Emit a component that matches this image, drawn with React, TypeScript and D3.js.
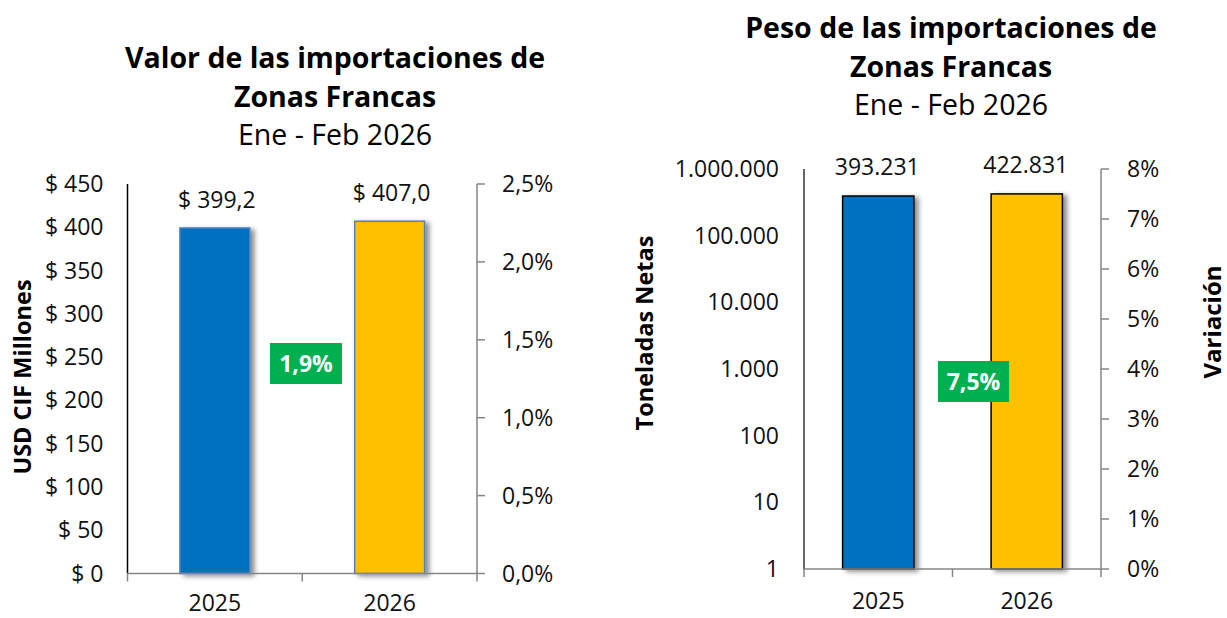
import React, { useEffect, useRef } from 'react';
import * as d3 from 'd3';

// datos
const years = ["2025", "2026"];
const valorMillones = [399.2, 407.0];
const pesoToneladas = [393231, 422831];
const variacionValor = ["1,9%"];
const variacionPeso = ["7,5%"];
const barColors = ["#0070C0", "#FFC000"];

const valorTicks = [0, 50, 100, 150, 200, 250, 300, 350, 400, 450];
const valorPctTicks = [0, 0.005, 0.01, 0.015, 0.02, 0.025];
const pesoTicks = [1, 10, 100, 1000, 10000, 100000, 1000000];
const pesoPctTicks = [0, 0.01, 0.02, 0.03, 0.04, 0.05, 0.06, 0.07, 0.08];

const FONT = "'Open Sans', 'Noto Sans', sans-serif";
const LABEL_SIZE = 23;

const fmtNum = (v: number, dec: number) =>
  v.toFixed(dec).replace(/\B(?=(\d{3})+(?!\d))/g, "#").replace(".", ",").replace(/#/g, ".");

const App = () => {
  const svgRef = useRef<SVGSVGElement | null>(null);

  useEffect(() => {
    if (!svgRef.current) return;
    const svg = d3.select(svgRef.current);
    svg.selectAll("*").remove();

    svg.append("rect").attr("width", 1227).attr("height", 618).attr("fill", "white");

    // sombra de las barras
    const filter = svg.append("defs").append("filter")
      .attr("id", "shadow").attr("x", "-20%").attr("y", "-20%").attr("width", "150%").attr("height", "140%");
    filter.append("feDropShadow")
      .attr("dx", 4).attr("dy", 2).attr("stdDeviation", 2.5)
      .attr("flood-color", "#000").attr("flood-opacity", 0.45);

    const title = (cx: number, y0: number, lines: string[]) => {
      lines.forEach((t, i) => {
        svg.append("text")
          .attr("x", cx).attr("y", y0 + i * 38.5)
          .attr("text-anchor", "middle")
          .attr("font-family", FONT)
          .attr("font-size", 28.5)
          .attr("font-weight", i < 2 ? 700 : 400)
          .attr("fill", "#000")
          .text(t);
      });
    };

    const badge = (cx: number, cy: number, w: number, h: number, label: string) => {
      svg.append("rect")
        .attr("x", cx - w / 2).attr("y", cy - h / 2).attr("width", w).attr("height", h)
        .attr("fill", "#00B050");
      svg.append("text")
        .attr("x", cx).attr("y", cy).attr("dy", "0.36em")
        .attr("text-anchor", "middle")
        .attr("font-family", FONT).attr("font-size", 23).attr("font-weight", 700)
        .attr("fill", "white")
        .text(label);
    };

    const axisTitle = (x: number, y: number, label: string, size: number) => {
      svg.append("text")
        .attr("transform", `translate(${x},${y}) rotate(-90)`)
        .attr("text-anchor", "middle").attr("dy", "0.35em")
        .attr("font-family", FONT).attr("font-size", size).attr("font-weight", 700)
        .attr("fill", "#000")
        .text(label);
    };

    const tickText = (g: any, x: number, y: number, anchor: string, label: string) => {
      g.append("text")
        .attr("x", x).attr("y", y).attr("dy", "0.35em")
        .attr("text-anchor", anchor)
        .attr("font-family", FONT).attr("font-size", LABEL_SIZE)
        .attr("fill", "#111")
        .text(label);
    };

    // ---------- Gráfico 1: Valor ----------
    {
      const x0 = 127.5, x1 = 477, yTop = 184, yBase = 573.5;
      const x = d3.scaleBand().domain(years).range([x0, x1]).paddingInner(0.6).paddingOuter(0.3);
      const y = d3.scaleLinear().domain([0, 450]).range([yBase, yTop]);
      const y2 = d3.scaleLinear().domain([0, 0.025]).range([yBase, yTop]);
      const g = svg.append("g");

      title(335, 68, ["Valor de las importaciones de", "Zonas Francas", "Ene - Feb 2026"]);

      years.forEach((yr, i) => {
        g.append("rect")
          .attr("x", x(yr)!).attr("y", y(valorMillones[i]))
          .attr("width", x.bandwidth()).attr("height", yBase - y(valorMillones[i]))
          .attr("fill", barColors[i])
          .attr("stroke", "#4F81BD").attr("stroke-width", 1.5)
          .attr("filter", "url(#shadow)");
        g.append("text")
          .attr("x", x(yr)! + x.bandwidth() / 2 + 2).attr("y", y(valorMillones[i]) - 20)
          .attr("text-anchor", "middle")
          .attr("font-family", FONT).attr("font-size", LABEL_SIZE).attr("fill", "#111")
          .text("$ " + fmtNum(valorMillones[i], 1));
        g.append("text")
          .attr("x", x(yr)! + x.bandwidth() / 2).attr("y", 611)
          .attr("text-anchor", "middle")
          .attr("font-family", FONT).attr("font-size", LABEL_SIZE).attr("fill", "#111")
          .text(yr);
      });

      // eje izquierdo
      g.append("line").attr("x1", x0).attr("x2", x0).attr("y1", yTop).attr("y2", yBase)
        .attr("stroke", "#000").attr("stroke-width", 1.5);
      valorTicks.forEach(v => tickText(g, x0 - 24, y(v), "end", "$ " + v));

      // eje derecho
      g.append("line").attr("x1", x1).attr("x2", x1).attr("y1", yTop).attr("y2", yBase)
        .attr("stroke", "#868686").attr("stroke-width", 1.5);
      valorPctTicks.forEach(v => {
        g.append("line").attr("x1", x1).attr("x2", x1 + 8).attr("y1", y2(v)).attr("y2", y2(v))
          .attr("stroke", "#868686").attr("stroke-width", 1.5);
        tickText(g, x1 + 25, y2(v), "start", fmtNum(v * 100, 1) + "%");
      });

      // eje x
      g.append("line").attr("x1", x0).attr("x2", x1).attr("y1", yBase).attr("y2", yBase)
        .attr("stroke", "#868686").attr("stroke-width", 1.5);
      [x0, (x0 + x1) / 2, x1].forEach(px => {
        g.append("line").attr("x1", px).attr("x2", px).attr("y1", yBase).attr("y2", yBase + 8)
          .attr("stroke", "#868686").attr("stroke-width", 1.5);
      });

      axisTitle(23, 377, "USD CIF Millones", 23.5);
      badge(306, 363.5, 72, 41, variacionValor[0]);
    }

    // ---------- Gráfico 2: Peso ----------
    {
      const x0 = 804, x1 = 1101, yTop = 169, yBase = 569;
      const x = d3.scaleBand().domain(years).range([x0, x1]).paddingInner(0.52).paddingOuter(0.26);
      const y = d3.scaleLog().domain([1, 1000000]).range([yBase, yTop]);
      const y2 = d3.scaleLinear().domain([0, 0.08]).range([yBase, yTop]);
      const g = svg.append("g");

      title(951, 38, ["Peso de las importaciones de", "Zonas Francas", "Ene - Feb 2026"]);

      years.forEach((yr, i) => {
        g.append("rect")
          .attr("x", x(yr)!).attr("y", y(pesoToneladas[i]))
          .attr("width", x.bandwidth()).attr("height", yBase - y(pesoToneladas[i]))
          .attr("fill", barColors[i])
          .attr("stroke", "#000").attr("stroke-width", 1.5)
          .attr("filter", "url(#shadow)");
        g.append("text")
          .attr("x", x(yr)! + x.bandwidth() / 2 - 1).attr("y", y(pesoToneladas[i]) - 21)
          .attr("text-anchor", "middle")
          .attr("font-family", FONT).attr("font-size", LABEL_SIZE).attr("fill", "#111")
          .text(fmtNum(pesoToneladas[i], 0));
        g.append("text")
          .attr("x", x(yr)! + x.bandwidth() / 2).attr("y", 609)
          .attr("text-anchor", "middle")
          .attr("font-family", FONT).attr("font-size", LABEL_SIZE).attr("fill", "#111")
          .text(yr);
      });

      g.append("line").attr("x1", x0).attr("x2", x0).attr("y1", yTop).attr("y2", yBase)
        .attr("stroke", "#000").attr("stroke-width", 1.2);
      pesoTicks.forEach(v => tickText(g, x0 - 25, y(v), "end", fmtNum(v, 0)));

      g.append("line").attr("x1", x1).attr("x2", x1).attr("y1", yTop).attr("y2", yBase)
        .attr("stroke", "#868686").attr("stroke-width", 1.5);
      pesoPctTicks.forEach(v => {
        g.append("line").attr("x1", x1).attr("x2", x1 + 8).attr("y1", y2(v)).attr("y2", y2(v))
          .attr("stroke", "#868686").attr("stroke-width", 1.5);
        tickText(g, x1 + 26, y2(v), "start", Math.round(v * 100) + "%");
      });

      g.append("line").attr("x1", x0).attr("x2", x1).attr("y1", yBase).attr("y2", yBase)
        .attr("stroke", "#868686").attr("stroke-width", 1.5);
      [x0, (x0 + x1) / 2, x1].forEach(px => {
        g.append("line").attr("x1", px).attr("x2", px).attr("y1", yBase).attr("y2", yBase + 8)
          .attr("stroke", "#868686").attr("stroke-width", 1.5);
      });

      axisTitle(645, 333, "Toneladas Netas", 23.5);
      axisTitle(1213, 322, "Variación", 24);
      badge(973.5, 381.5, 71, 41, variacionPeso[0]);
    }
  }, []);

  return (
    <div style={{ position: 'absolute', left: 0, top: 0 }}>
      <svg ref={svgRef} width={1227} height={618} style={{ display: 'block' }} />
    </div>
  );
};

export default App;
